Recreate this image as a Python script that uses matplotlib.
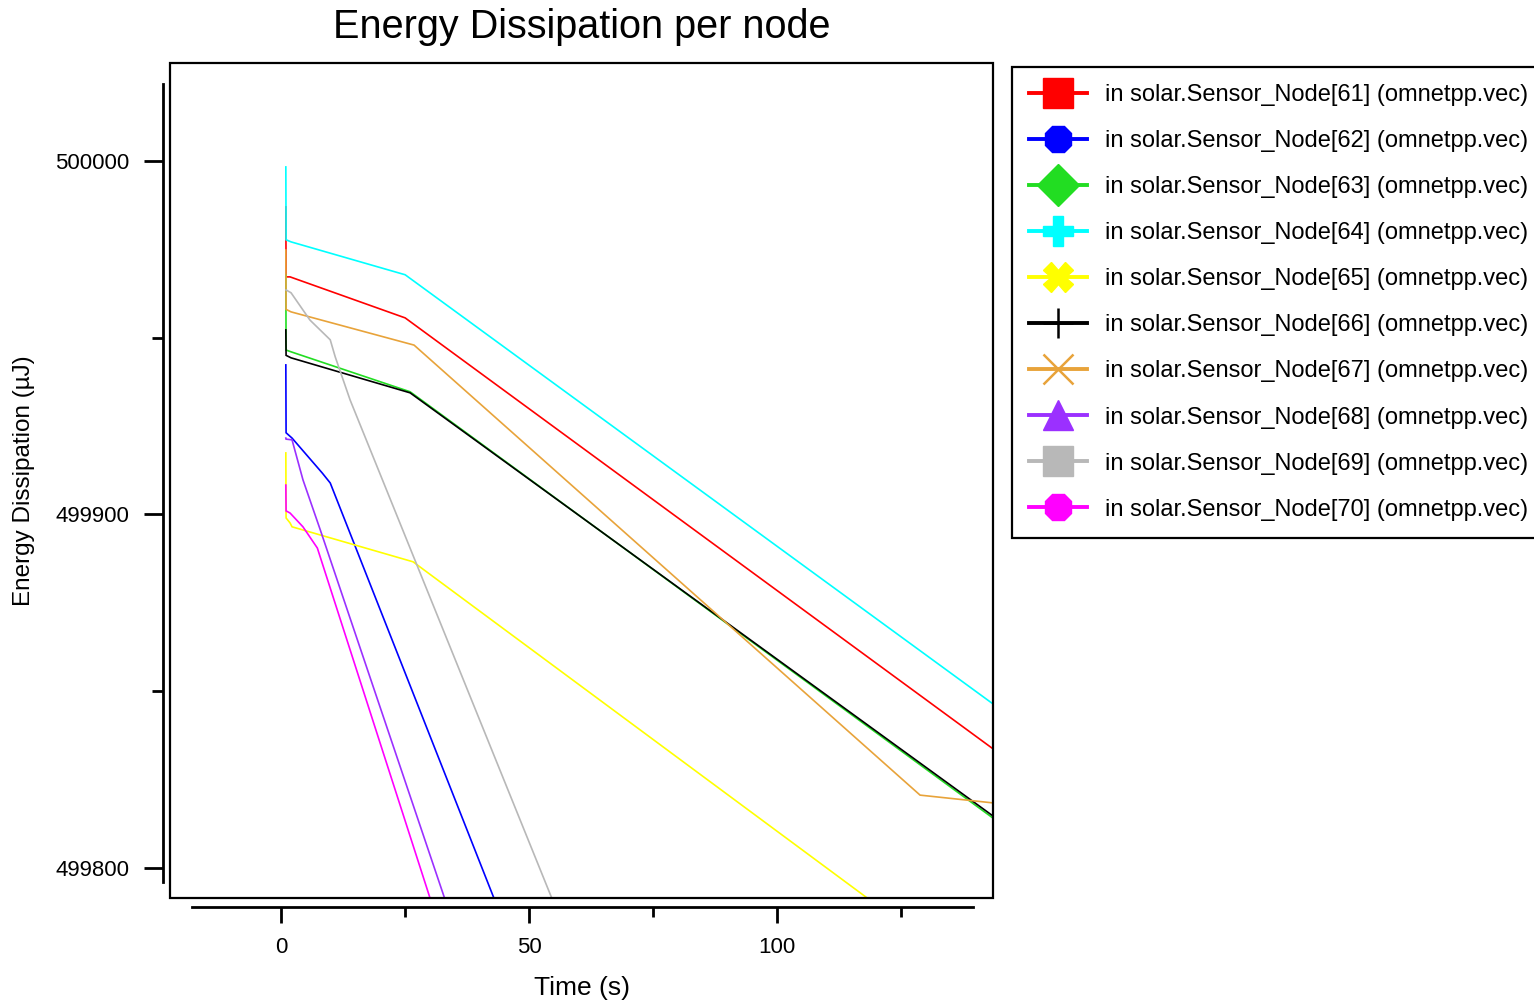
import matplotlib
matplotlib.use("Agg")
import matplotlib.pyplot as plt
from matplotlib.lines import Line2D
from matplotlib.patches import Rectangle

plt.rcParams['font.family'] = ['Liberation Sans', 'DejaVu Sans']

# ---------------- data ----------------
labels = [f"in solar.Sensor_Node[{i}] (omnetpp.vec)" for i in range(61, 71)]
colors = ['#ff0000', '#0000ff', '#22dd22', '#00ffff', '#ffff00',
          '#000000', '#e8a33a', '#9b30ff', '#b8b8b8', '#ff00ff']
markers = ['s', '8', 'D', 'P', 'X', '+', 'x', '^', 's', '8']

t61 = [0.95, 1.0, 1.8, 25.0, 143.5]
e61 = [499987.0, 499967.2, 499967.2, 499955.6, 499833.7]

t62 = [0.95, 1.0, 2.2, 8.3, 9.9, 46.2]
e62 = [499942.3, 499923.1, 499921.6, 499911.7, 499908.9, 499779.7]

t63 = [0.95, 1.0, 2.0, 26.0, 143.5]
e63 = [499967.8, 499946.5, 499946.0, 499934.7, 499814.1]

t64 = [0.95, 1.0, 2.0, 25.0, 143.5]
e64 = [499998.3, 499977.7, 499977.1, 499967.8, 499846.4]

t65 = [0.95, 1.0, 1.8, 2.2, 26.6, 122.0]
e65 = [499917.4, 499899.0, 499897.6, 499896.5, 499886.6, 499787.5]

t66 = [0.95, 1.0, 2.0, 26.0, 143.5]
e66 = [499952.2, 499945.0, 499944.3, 499934.4, 499814.7]

t67 = [0.95, 1.0, 2.0, 26.8, 128.8, 143.5]
e67 = [499974.8, 499958.0, 499957.3, 499947.9, 499820.6, 499818.4]

t68 = [0.95, 1.0, 2.2, 4.4, 7.9, 34.5]
e68 = [499921.6, 499921.3, 499921.1, 499909.8, 499895.6, 499785.0]

t69 = [1.0, 2.0, 5.8, 9.9, 10.9, 13.9, 57.0]
e69 = [499963.5, 499962.7, 499955.0, 499949.4, 499944.6, 499932.4, 499783.0]

t70 = [0.95, 1.0, 1.8, 4.4, 7.3, 31.5]
e70 = [499908.3, 499901.0, 499900.4, 499896.5, 499890.5, 499785.0]

times = [t61, t62, t63, t64, t65, t66, t67, t68, t69, t70]
energies = [e61, e62, e63, e64, e65, e66, e67, e68, e69, e70]

xticks_major = [0, 50, 100]
xticks_minor = [25, 75, 125]
yticks_major = [499800, 499900, 500000]
yticks_minor = [499850, 499950]

# ---------------- figure ----------------
fig = plt.figure(figsize=(15.34, 10.0), dpi=100)
fig.patch.set_facecolor('white')
L, R, T, B = 170, 993, 63, 898
ax = fig.add_axes([L / 1534, 1 - B / 1000, (R - L) / 1534, (B - T) / 1000])

for t, e, c in zip(times, energies, colors):
    ax.plot(t, e, color=c, lw=1.2, solid_joinstyle='miter')

ax.set_xlim(-22.4, 143.5)
ax.set_ylim(499791.5, 500027.7)

# box
ax.add_patch(Rectangle((0, 0), 1, 1, transform=ax.transAxes, fill=False,
                       lw=1.6, ec='black', clip_on=False, zorder=5))
ax.spines['top'].set_visible(False)
ax.spines['right'].set_visible(False)
ax.spines['left'].set_position(('outward', 5.0))
ax.spines['bottom'].set_position(('outward', 6.5))
ax.spines['left'].set_bounds(499796.0, 500021.8)
ax.spines['bottom'].set_bounds(-18.0, 139.5)
for s in ('left', 'bottom'):
    ax.spines[s].set_linewidth(2.0)

ax.set_xticks(xticks_major, labels=[str(v) for v in xticks_major])
ax.set_xticks(xticks_minor, minor=True)
ax.set_yticks(yticks_major, labels=[str(v) for v in yticks_major])
ax.set_yticks(yticks_minor, minor=True)
ax.tick_params(axis='x', which='major', length=11.5, width=2.0,
               labelsize=16, pad=10)
ax.tick_params(axis='y', which='major', length=13.5, width=2.0,
               labelsize=16, pad=11)
ax.tick_params(axis='x', which='minor', length=7.5, width=2.0)
ax.tick_params(axis='y', which='minor', length=8, width=2.0)

ax.set_title("Energy Dissipation per node", fontsize=28.5, pad=18)
ax.set_xlabel("Time (s)", fontsize=19, labelpad=13)
ax.set_ylabel("Energy Dissipation (µJ)", fontsize=17.5, labelpad=14)

# legend
handles = [Line2D([0], [0], color=c, lw=2.8, marker=m, markersize=21,
                  markerfacecolor=c, markeredgecolor=c,
                  markeredgewidth=(1.8 if m in ('+', 'x') else 1.0))
           for c, m in zip(colors, markers)]
leg = ax.legend(handles, labels, loc='upper left',
                bbox_to_anchor=(1012 / 1534, 1 - 67 / 1000),
                bbox_transform=fig.transFigure, borderaxespad=0,
                frameon=True, fancybox=False, edgecolor='black',
                framealpha=1, fontsize=17, handlelength=2.45,
                handletextpad=0.75, borderpad=0.72, labelspacing=1.02)
leg.get_frame().set_linewidth(1.6)

fig.savefig("out.png", dpi=100, facecolor='white')
